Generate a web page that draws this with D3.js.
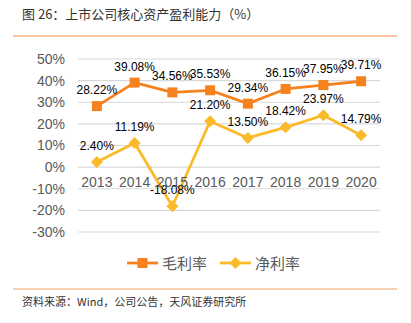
<!DOCTYPE html>
<html><head><meta charset="utf-8">
<script src="https://cdn.jsdelivr.net/npm/d3@7"></script>
<style>body{margin:0;background:#fff}svg{display:block}</style>
</head><body>
<script>
const categories = ["2013","2014","2015","2016","2017","2018","2019","2020"];
const grossMargin = [28.22,39.08,34.56,35.53,29.34,36.15,37.95,39.71];
const netMargin = [2.40,11.19,-18.08,21.20,13.50,18.42,23.97,14.79];
const yTicks = [-30,-20,-10,0,10,20,30,40,50];
const seriesNames = ["毛利率","净利率"];

const W=411,H=323;
const svg=d3.select("body").append("svg").attr("width",W).attr("height",H);
const font="'Liberation Sans', Arial, sans-serif";
const cjk="'Noto Sans CJK SC', sans-serif";

svg.append("text").attr("x",22).attr("y",19).attr("font-family",cjk).attr("font-size",13).attr("fill","#333")
  .text("图 26：上市公司核心资产盈利能力（%）");
svg.append("line").attr("x1",13).attr("x2",397).attr("y1",36).attr("y2",36).attr("stroke","#F4B183").attr("stroke-width",1.5);
svg.append("line").attr("x1",13).attr("x2",397).attr("y1",289).attr("y2",289).attr("stroke","#F0A060").attr("stroke-width",1);
svg.append("text").attr("x",22).attr("y",306).attr("font-family",cjk).attr("font-size",11).attr("fill","#333")
  .text("资料来源：Wind，公司公告，天风证券研究所");

const x=d3.scaleBand().domain(categories).range([78,380]);
const y=d3.scaleLinear().domain([-30,50]).range([232,59]);

const g=svg.append("g");
g.selectAll("line.grid").data(yTicks).join("line").attr("class","grid")
  .attr("x1",78).attr("x2",380).attr("y1",d=>y(d)).attr("y2",d=>y(d))
  .attr("stroke","#D9D9D9").attr("stroke-width",1.2);

const yAxis=d3.axisLeft(y).tickValues(yTicks).tickFormat(d=>d+"%").tickSize(0).tickPadding(13);
const ya=svg.append("g").attr("transform","translate(78,0)").call(yAxis);
ya.select(".domain").remove();
ya.selectAll("text").attr("font-family",font).attr("font-size",14).attr("fill","#595959");

const xAxis=d3.axisBottom(x).tickSize(0).tickPadding(10);
const xa=svg.append("g").attr("transform",`translate(0,${y(0)})`).call(xAxis);
xa.select(".domain").remove();
xa.selectAll("text").attr("font-family",font).attr("font-size",14).attr("fill","#595959");

const cx=d=>x(d)+x.bandwidth()/2;
const cols=["#F5821F","#FBBA2A"];
const line=d3.line().x((d,i)=>cx(categories[i])).y(d=>y(d));

[grossMargin,netMargin].forEach((vals,si)=>{
  g.append("path").datum(vals).attr("d",line).attr("fill","none").attr("stroke",cols[si]).attr("stroke-width",2.8).attr("stroke-linejoin","round");
  const m=g.selectAll(null).data(vals).join("path")
    .attr("transform",(d,i)=>`translate(${cx(categories[i])},${y(d)})`)
    .attr("fill",cols[si]);
  if(si===0) m.attr("d","M-5,-5H5V5H-5Z");
  else m.attr("d","M0,-6L6,0L0,6L-6,0Z");
  g.selectAll(null).data(vals).join("text")
    .attr("x",(d,i)=>cx(categories[i])).attr("y",d=>y(d)-12)
    .attr("text-anchor","middle").attr("font-family",font).attr("font-size",12).attr("fill","#000")
    .text(d=>d.toFixed(2)+"%");
});

// legend
const lg=svg.append("g");
const items=[{x:127,name:seriesNames[0],c:cols[0],t:"sq"},{x:220,name:seriesNames[1],c:cols[1],t:"di"}];
items.forEach(it=>{
  lg.append("line").attr("x1",it.x).attr("x2",it.x+31).attr("y1",263).attr("y2",263).attr("stroke",it.c).attr("stroke-width",2.8);
  lg.append("path").attr("transform",`translate(${it.x+15.5},263)`).attr("fill",it.c)
    .attr("d",it.t==="sq"?"M-5,-5H5V5H-5Z":"M0,-6L6,0L0,6L-6,0Z");
  lg.append("text").attr("x",it.x+35).attr("y",268.5).attr("font-family",cjk).attr("font-size",15).attr("fill","#595959").text(it.name);
});
</script>
</body></html>
